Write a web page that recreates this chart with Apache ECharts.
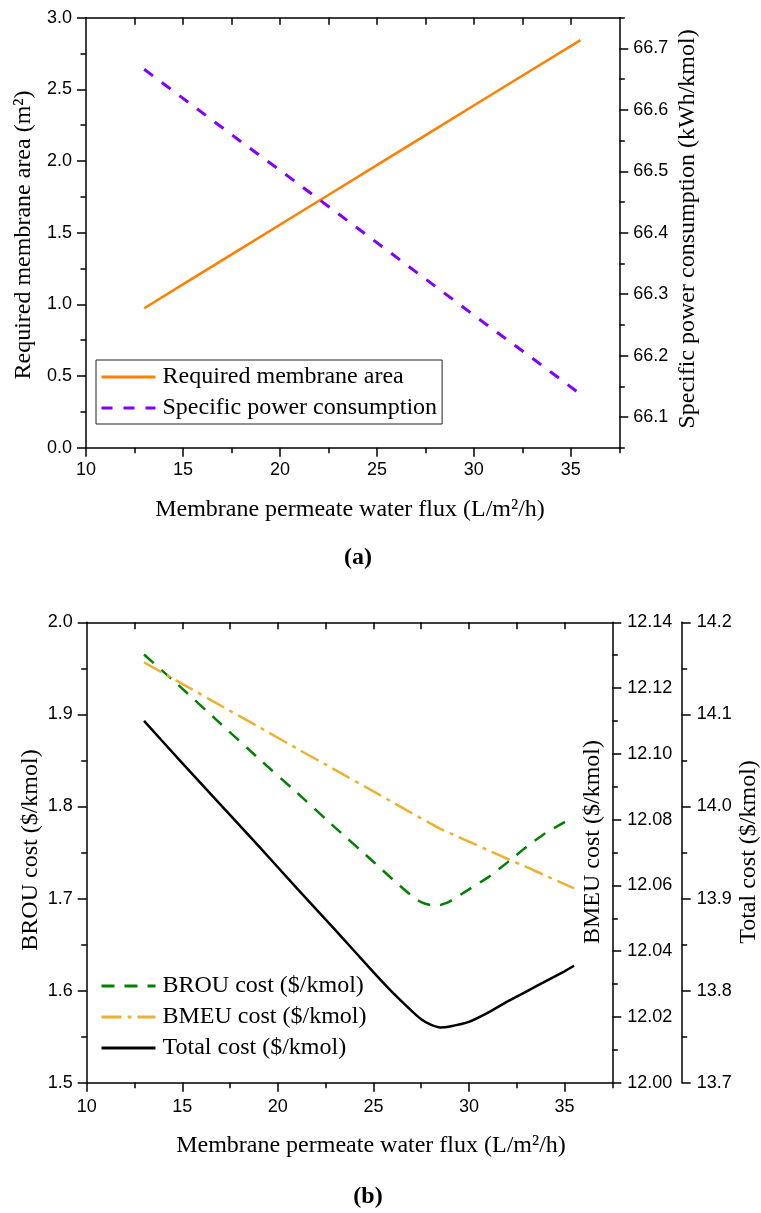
<!DOCTYPE html>
<html><head><meta charset="utf-8">
<script src="https://cdn.jsdelivr.net/npm/echarts@6/dist/echarts.min.js"></script>
<style>html,body{margin:0;padding:0;background:#fff}#c{width:761px;height:1213px}</style>
</head><body><div id="c"></div>
<script>
// ---- Data: chart (a) ----
const fluxA = [13, 15.5, 18, 20.5, 23, 25.5, 28, 30.5, 33, 35.5];
const membraneArea = [0.973, 1.181, 1.389, 1.597, 1.805, 2.013, 2.221, 2.429, 2.637, 2.844];
const specificPower = [66.666, 66.607, 66.548, 66.490, 66.431, 66.372, 66.313, 66.254, 66.196, 66.137];
// ---- Data: chart (b) ----
const fluxB = [13, 15, 17, 19, 21, 23, 25, 26, 27, 27.5, 28, 28.5, 29, 30, 31, 32, 33, 34, 35, 35.5];
const brouCost = [1.965, 1.928, 1.890, 1.852, 1.815, 1.777, 1.740, 1.721, 1.703, 1.696, 1.693, 1.693, 1.697, 1.710, 1.723, 1.739, 1.756, 1.771, 1.783, 1.789];
const bmeuCost = [12.1278, 12.1213, 12.1147, 12.1082, 12.1016, 12.0951, 12.0886, 12.0853, 12.0820, 12.0804, 12.0788, 12.0772, 12.0759, 12.0733, 12.0707, 12.0681, 12.0656, 12.0630, 12.0604, 12.0591];
const totalCost = [14.093, 14.047, 14.002, 13.957, 13.911, 13.866, 13.820, 13.798, 13.778, 13.769, 13.763, 13.760, 13.761, 13.766, 13.776, 13.788, 13.799, 13.810, 13.821, 13.827];
// ---- Tick values ----
const xMajor = [10, 15, 20, 25, 30, 35];
const xMinor = [12.5, 17.5, 22.5, 27.5, 32.5, 37.5];
const xTop = [12.5, 15, 17.5, 20, 22.5, 25, 27.5, 30, 32.5, 35];
const areaMajor = [0, 0.5, 1.0, 1.5, 2.0, 2.5, 3.0];
const areaMinor = [0.25, 0.75, 1.25, 1.75, 2.25, 2.75];
const powerMajor = [66.1, 66.2, 66.3, 66.4, 66.5, 66.6, 66.7];
const powerMinor = [66.05, 66.15, 66.25, 66.35, 66.45, 66.55, 66.65, 66.75];
const brouMajor = [1.5, 1.6, 1.7, 1.8, 1.9, 2.0];
const brouMinor = [1.55, 1.65, 1.75, 1.85, 1.95];
const bmeuMajor = [12.00, 12.02, 12.04, 12.06, 12.08, 12.10, 12.12, 12.14];
const bmeuMinor = [12.01, 12.03, 12.05, 12.07, 12.09, 12.11, 12.13];
const totalMajor = [13.7, 13.8, 13.9, 14.0, 14.1, 14.2];
const totalMinor = [13.75, 13.85, 13.95, 14.05, 14.15];

const zip = (xs, ys) => xs.map((x, i) => [x, ys[i]]);
const SERIF = '"Liberation Serif", "Times New Roman", serif';
const SANS = '"Liberation Sans", Arial, sans-serif';
const AX = {color: '#000', width: 1.5};

function axis(o) {
  const major = o.major, minor = o.minor;
  const base = {
    type: 'value', gridIndex: o.grid, min: o.min, max: o.max, position: o.position, offset: o.offset || 0,
    splitLine: {show: false}, minorTick: {show: false}
  };
  const mainAx = Object.assign({}, base, {
    axisLine: {show: true, onZero: false, lineStyle: AX},
    axisTick: {show: true, inside: !!o.inside, length: o.tickLen || 9, lineStyle: AX, customValues: major},
    axisLabel: o.noLabel ? {show: false} : {
      show: true, customValues: major, color: '#000', fontFamily: SANS, fontSize: 18,
      margin: o.margin || 14, formatter: v => v.toFixed(o.dec)
    }
  });
  const res = [mainAx];
  if (minor) {
    res.push(Object.assign({}, base, {
      axisLine: {show: false, onZero: false},
      axisTick: {show: true, inside: !!o.inside, length: 5.5, lineStyle: AX, customValues: minor},
      axisLabel: {show: false}
    }));
  }
  return res;
}

const xAxes = [].concat(
  axis({grid: 0, min: 10, max: 37.5, position: 'bottom', major: xMajor, minor: xMinor, dec: 0, margin: 13}), // 0,1
  axis({grid: 0, min: 10, max: 37.5, position: 'top', major: xTop, inside: true, tickLen: 7, noLabel: true}), // 2
  axis({grid: 1, min: 10, max: 37.5, position: 'bottom', major: xMajor, minor: xMinor, dec: 0, margin: 15}), // 3,4
  axis({grid: 1, min: 10, max: 37.5, position: 'top', major: xTop, inside: true, tickLen: 7, noLabel: true}) // 5
);
const yAxes = [].concat(
  axis({grid: 0, min: 0, max: 3, position: 'left', major: areaMajor, minor: areaMinor, dec: 1}), // 0,1
  axis({grid: 0, min: 66.05, max: 66.75, position: 'right', major: powerMajor, minor: powerMinor, dec: 1}), // 2,3
  axis({grid: 1, min: 1.5, max: 2.0, position: 'left', major: brouMajor, minor: brouMinor, dec: 1}), // 4,5
  axis({grid: 1, min: 12.0, max: 12.14, position: 'right', major: bmeuMajor, minor: bmeuMinor, dec: 2, margin: 15}), // 6,7
  axis({grid: 1, min: 13.7, max: 14.2, position: 'right', offset: 69.4, major: totalMajor, minor: totalMinor, dec: 1, margin: 15}) // 8,9
);

function title(text, x, y, rot, bold) {
  return {
    type: 'text', x: x, y: y, rotation: rot ? Math.PI / 2 : 0, silent: true,
    style: {text: text, fill: '#000', fontFamily: SERIF, fontSize: 24, fontWeight: bold ? 'bold' : 'normal',
      align: 'center', verticalAlign: 'middle'}
  };
}

const legendCommon = {
  orient: 'vertical', left: 96, itemWidth: 54, itemHeight: 14, itemGap: 3,
  padding: [3, 5, 2, 4],
  itemStyle: {opacity: 0, borderWidth: 0},
  lineStyle: {width: 3},
  textStyle: {color: '#000', fontFamily: SERIF, fontSize: 24, lineHeight: 28, padding: [0, 0, 0, 2]}
};

const option = {
  animation: false,
  backgroundColor: '#fff',
  grid: [
    {left: 86, top: 17.7, width: 533.3, height: 430, containLabel: false},
    {left: 86.7, top: 622.3, width: 525.6, height: 460.4, containLabel: false}
  ],
  xAxis: xAxes,
  yAxis: yAxes,
  legend: [
    Object.assign({}, legendCommon, {
      data: ['Required membrane area', 'Specific power consumption'],
      top: 360, borderColor: '#222', borderWidth: 1, backgroundColor: '#fff'
    }),
    Object.assign({}, legendCommon, {
      data: ['BROU cost ($/kmol)', 'BMEU cost ($/kmol)', 'Total cost ($/kmol)'],
      top: 969
    })
  ],
  series: [
    {name: 'Required membrane area', type: 'line', xAxisIndex: 0, yAxisIndex: 0, symbol: 'none',
      data: zip(fluxA, membraneArea), lineStyle: {color: '#FF7F00', width: 2.5}, itemStyle: {color: '#FF7F00'}},
    {name: 'Specific power consumption', type: 'line', xAxisIndex: 0, yAxisIndex: 2, symbol: 'none',
      data: zip(fluxA, specificPower), lineStyle: {color: '#7F00FF', width: 3, type: [11, 11]}, itemStyle: {color: '#7F00FF'}},
    {name: 'BROU cost ($/kmol)', type: 'line', xAxisIndex: 3, yAxisIndex: 4, symbol: 'none', smooth: 0.15,
      data: zip(fluxB, brouCost), lineStyle: {color: '#008000', width: 2.5, type: [13, 10]}, itemStyle: {color: '#008000'}},
    {name: 'BMEU cost ($/kmol)', type: 'line', xAxisIndex: 3, yAxisIndex: 6, symbol: 'none', smooth: 0.15,
      data: zip(fluxB, bmeuCost), lineStyle: {color: '#EBB232', width: 2.5, type: [20, 6, 4, 6]}, itemStyle: {color: '#EBB232'}},
    {name: 'Total cost ($/kmol)', type: 'line', xAxisIndex: 3, yAxisIndex: 8, symbol: 'none', smooth: 0.15,
      data: zip(fluxB, totalCost), lineStyle: {color: '#000', width: 2.5}, itemStyle: {color: '#000'}}
  ],
  graphic: [
    title('Membrane permeate water flux (L/m²/h)', 350, 510),
    title('Required membrane area (m²)', 24, 235, true),
    title('Specific power consumption (kWh/kmol)', 688, 229, true),
    title('(a)', 358, 558, false, true),
    title('Membrane permeate water flux (L/m²/h)', 371, 1146),
    title('BROU cost ($/kmol)', 31, 850, true),
    title('BMEU cost ($/kmol)', 593, 842, true),
    title('Total cost ($/kmol)', 749, 852, true),
    title('(b)', 368, 1197, false, true)
  ]
};
const chart = echarts.init(document.getElementById('c'), null, {renderer: 'canvas'});
chart.setOption(option);
</script>
</body></html>
